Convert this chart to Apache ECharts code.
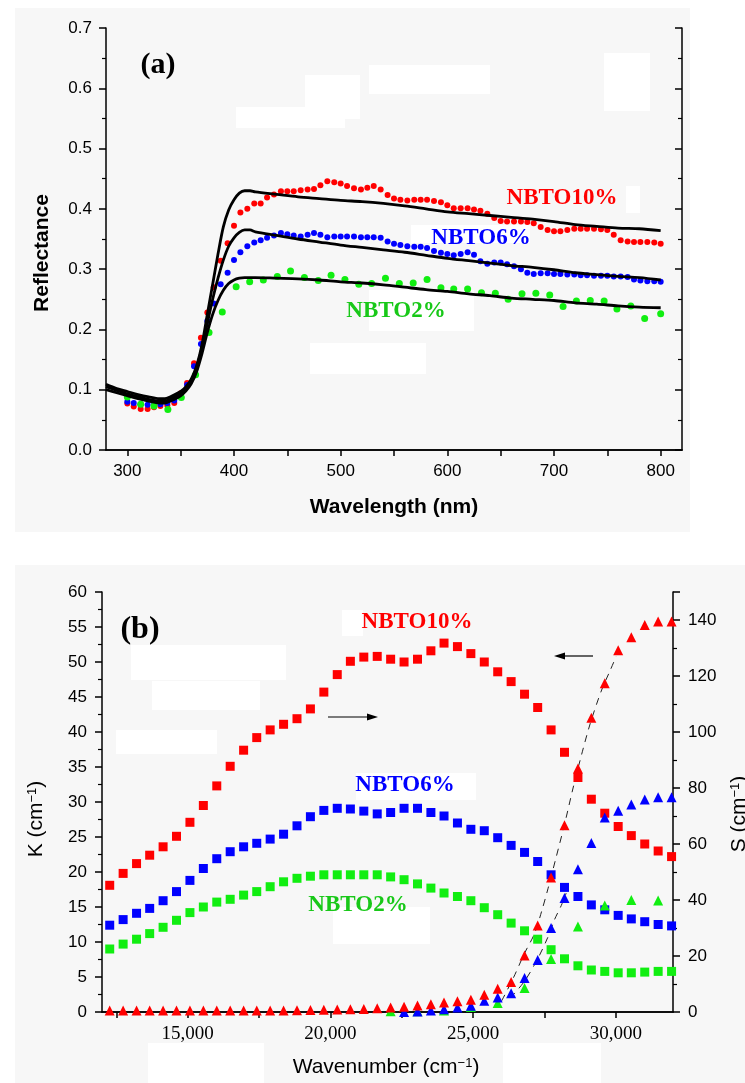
<!DOCTYPE html>
<html><head><meta charset="utf-8">
<script src="https://cdn.jsdelivr.net/npm/echarts@6/dist/echarts.min.js"></script>
<style>html,body{margin:0;padding:0;background:#fff}#c{width:745px;height:1083px}</style>
</head><body><div id="c"></div>
<script>
// ---------- Panel (a): reflectance ----------
const dotWl = [300,306,312.5,319,325,331,337.5,344,350,356,362.5,369,375,381,387.5,394,400,406,412.5,419,425,431,437.5,444,450,456,462.5,469,475,481,487.5,494,500,506,512.5,519,525,531,537.5,544,550,556,562.5,569,575,581,587.5,594,600,606,612.5,619,625,631,637.5,644,650,656,662.5,669,675,681,687.5,694,700,706,712.5,719,725,731,737.5,744,750,756,762.5,769,775,781,787.5,794,800];
const red10R = [0.077,0.072,0.068,0.068,0.071,0.073,0.074,0.078,0.094,0.111,0.144,0.186,0.228,0.270,0.314,0.343,0.372,0.394,0.400,0.409,0.409,0.419,0.424,0.429,0.429,0.429,0.431,0.432,0.433,0.439,0.446,0.444,0.442,0.438,0.434,0.432,0.435,0.438,0.432,0.423,0.417,0.415,0.414,0.415,0.415,0.415,0.413,0.411,0.406,0.401,0.401,0.401,0.399,0.397,0.392,0.385,0.380,0.379,0.379,0.379,0.378,0.376,0.370,0.365,0.363,0.363,0.365,0.367,0.367,0.367,0.367,0.366,0.365,0.357,0.348,0.346,0.345,0.345,0.345,0.344,0.342];
const blue6R = [0.080,0.078,0.076,0.075,0.075,0.076,0.078,0.082,0.092,0.108,0.139,0.176,0.214,0.243,0.275,0.294,0.315,0.328,0.338,0.344,0.348,0.352,0.356,0.360,0.358,0.356,0.354,0.357,0.360,0.357,0.353,0.354,0.354,0.354,0.354,0.353,0.353,0.353,0.352,0.346,0.342,0.340,0.338,0.337,0.337,0.335,0.330,0.327,0.325,0.323,0.325,0.328,0.324,0.313,0.309,0.311,0.311,0.308,0.305,0.300,0.294,0.292,0.293,0.293,0.292,0.292,0.291,0.291,0.290,0.290,0.289,0.289,0.289,0.288,0.288,0.287,0.283,0.281,0.280,0.280,0.279];
const greenWl = [300,312.5,325,338,350.6,364,376.6,389,402,414.7,427.5,440.6,453,466,479,491,504,517,529,542,555,568,581,594,606,619,632,645,657,670,683,696,708.5,721,734,747,759,772,785,800];
const green2R = [0.088,0.076,0.073,0.067,0.087,0.125,0.195,0.229,0.271,0.279,0.282,0.288,0.297,0.286,0.281,0.290,0.283,0.275,0.276,0.285,0.276,0.277,0.283,0.269,0.267,0.267,0.261,0.260,0.250,0.259,0.260,0.257,0.238,0.247,0.248,0.247,0.234,0.239,0.218,0.226];
const fitWl = [280,290,300,310,320,330,335,340,350,355,360,365,370,375,380,385,390,395,400,405,410,415,420,440,460,480,500,520,540,560,580,600,620,640,660,680,700,720,740,760,780,800];
const fit10 = [0.109,0.102,0.097,0.092,0.088,0.085,0.085,0.088,0.097,0.105,0.118,0.140,0.175,0.225,0.275,0.325,0.370,0.398,0.415,0.426,0.430,0.430,0.428,0.424,0.420,0.417,0.414,0.412,0.409,0.405,0.400,0.395,0.392,0.389,0.386,0.383,0.379,0.374,0.371,0.368,0.367,0.364];
const fit6 = [0.105,0.099,0.093,0.088,0.084,0.081,0.081,0.084,0.094,0.102,0.115,0.137,0.170,0.210,0.250,0.285,0.315,0.338,0.352,0.361,0.365,0.365,0.362,0.356,0.350,0.345,0.340,0.336,0.332,0.328,0.323,0.318,0.314,0.310,0.306,0.303,0.299,0.294,0.291,0.288,0.286,0.282];
const fit2 = [0.100,0.095,0.090,0.085,0.081,0.078,0.078,0.081,0.090,0.098,0.110,0.130,0.160,0.195,0.225,0.248,0.265,0.276,0.282,0.285,0.286,0.286,0.286,0.285,0.284,0.282,0.279,0.277,0.274,0.270,0.266,0.263,0.259,0.256,0.252,0.250,0.248,0.244,0.242,0.239,0.237,0.236];
const wlTicks = [300,350,400,450,500,550,600,650,700,750,800];
const wlLabels = [300,400,500,600,700,800];

// ---------- Panel (b): K and S ----------
const wn = [12270,12740,13210,13670,14140,14610,15080,15550,16020,16490,16960,17420,17890,18360,18830,19300,19770,20240,20700,21170,21640,22110,22580,23050,23520,23980,24450,24920,25390,25860,26330,26800,27260,27730,28200,28670,29140,29610,30080,30540,31010,31480,31950];
const K10 = [18.1,19.8,21.2,22.4,23.6,25.1,27.1,29.5,32.3,35.1,37.4,39.2,40.3,41.1,41.9,43.3,45.7,48.2,50.1,50.7,50.8,50.4,50.0,50.4,51.6,52.7,52.2,51.2,50.0,48.6,47.2,45.4,43.5,40.3,37.1,33.5,30.4,28.4,26.5,25.2,24.0,23.0,22.2];
const K6 = [12.4,13.2,14.1,14.8,15.9,17.2,18.8,20.5,21.9,22.9,23.6,24.1,24.7,25.4,26.6,27.9,28.8,29.1,29.0,28.7,28.3,28.5,29.1,29.1,28.5,28.0,27.0,26.1,25.9,24.9,23.8,22.8,21.5,19.6,17.8,16.5,15.3,14.6,13.8,13.3,12.9,12.5,12.3];
const K2 = [9.0,9.7,10.4,11.2,12.1,13.1,14.2,15.0,15.7,16.1,16.7,17.2,17.9,18.6,19.1,19.4,19.6,19.6,19.6,19.6,19.6,19.3,18.9,18.3,17.7,17.0,16.5,15.9,14.9,13.9,12.7,11.6,10.4,8.9,7.6,6.6,6.0,5.8,5.6,5.6,5.7,5.8,5.8];
const S10 = [0.5,0.5,0.5,0.5,0.5,0.5,0.5,0.5,0.5,0.5,0.5,0.5,0.5,0.5,0.6,0.7,0.8,0.9,1.0,1.1,1.3,1.6,1.9,2.3,2.8,3.4,3.8,4.4,6.2,8.3,10.7,20.2,30.9,48.0,66.7,87.0,105.1,117.4,129.2,133.8,138.2,139.5,139.5];
const S6 = [null,null,null,null,null,null,null,null,null,null,null,null,null,null,null,null,null,null,null,null,null,null,0,0.2,0.5,1.0,1.6,2.2,4.0,5.2,6.7,12.1,18.6,30.0,40.7,51.0,60.4,69.5,71.9,74.1,75.9,76.7,76.7];
const S2 = [null,null,null,null,null,null,null,null,null,null,null,null,null,null,null,null,null,null,null,null,null,0.3,null,0.3,null,0.5,null,1.8,null,3.2,null,8.6,null,18.9,null,30.5,null,38.0,null,40.0,null,39.8,null];
const fitRW = [26000,26400,26800,27150,27400,27620,27900,28200,28500,28800,29100,29500,29800,30010];
const fitRS = [4,12,21,28,36,44,55,67,80,92,103,115,122,127];
const fitBW = [26300,26800,27260,27608,27850,28085,28260];
const fitBS = [5,11,19,26.5,33,38,42.5];
const wnTicks = [12500,15000,17500,20000,22500,25000,27500,30000];
const wnLabels = [15000,20000,25000,30000];

const SANS = '"Liberation Sans", Arial, sans-serif';
const SERIF = '"Liberation Serif", "Times New Roman", serif';
const RED = '#ff0000', BLUE = '#0000ff', GREEN = '#11ee11', GREENTXT = '#18c818';

const chart = echarts.init(document.getElementById('c'), null, {renderer: 'canvas'});
const pair = (xs, ys) => xs.map((x, i) => [x, ys[i]]);

const axLine = {lineStyle: {color: '#000', width: 1.5}};
function xAx(grid, pos, min, max, ticks, labels, fmt, font, size) {
  const inside = pos === 'top';
  return {
    type: 'value', gridIndex: grid, position: pos, min: min, max: max,
    axisLine: axLine,
    axisTick: {inside: inside, length: 6, lineStyle: {color: '#000', width: 1.5}, customValues: ticks},
    axisLabel: inside ? {show: false} : {customValues: labels, formatter: fmt, color: '#000', fontSize: size, fontFamily: font, margin: 13},
    splitLine: {show: false}
  };
}
function yAx(grid, pos, min, max, interval, labelOn, fmt, margin, showMax) {
  const inside = (grid === 0 && pos === 'right');
  return {
    type: 'value', gridIndex: grid, position: pos, min: min, max: max, interval: interval,
    axisLine: axLine,
    axisTick: {inside: inside, length: 7, lineStyle: {color: '#000', width: 1.5}},
    minorTick: {show: true, splitNumber: 2, length: 4, lineStyle: {color: '#000', width: 1.2}},
    axisLabel: labelOn ? {formatter: fmt, color: '#000', fontSize: 17, fontFamily: SANS, margin: margin, showMaxLabel: showMax} : {show: false},
    splitLine: {show: false}, minorSplitLine: {show: false}
  };
}
function dots(xi, yi, sym, size, color, data, z) {
  return {type: 'scatter', xAxisIndex: xi, yAxisIndex: yi, symbol: sym, symbolSize: size,
    itemStyle: {color: color, opacity: 1}, data: data, z: z};
}

const option = {
  animation: false,
  backgroundColor: '#ffffff',
  grid: [
    {left: 106, top: 28, width: 576, height: 422},
    {left: 102, top: 592, width: 571, height: 420}
  ],
  xAxis: [
    xAx(0, 'bottom', 280, 820, wlTicks, wlLabels, v => String(v), SANS, 17),
    xAx(0, 'top', 280, 820, wlTicks, wlLabels, null, SANS, 17),
    xAx(1, 'bottom', 12000, 32000, wnTicks, wnLabels, v => v.toLocaleString('en-US'), SERIF, 19),
    xAx(1, 'top', 12000, 32000, wnTicks, wnLabels, null, SERIF, 19)
  ],
  yAxis: [
    yAx(0, 'left', 0, 0.7, 0.1, true, v => v.toFixed(1), 14, true),
    yAx(0, 'right', 0, 0.7, 0.1, false),
    yAx(1, 'left', 0, 60, 5, true, v => String(v), 15, true),
    yAx(1, 'right', 0, 150, 20, true, v => String(v), 15, false)
  ],
  series: [
    dots(0, 0, 'circle', 6, RED, pair(dotWl, red10R), 2),
    dots(0, 0, 'circle', 6, BLUE, pair(dotWl, blue6R), 2),
    dots(0, 0, 'circle', 7, GREEN, pair(greenWl, green2R), 2),
    {type: 'line', xAxisIndex: 0, yAxisIndex: 0, showSymbol: false, smooth: 0.3, lineStyle: {color: '#000', width: 2.8}, data: pair(fitWl, fit10), z: 3},
    {type: 'line', xAxisIndex: 0, yAxisIndex: 0, showSymbol: false, smooth: 0.3, lineStyle: {color: '#000', width: 2.8}, data: pair(fitWl, fit6), z: 3},
    {type: 'line', xAxisIndex: 0, yAxisIndex: 0, showSymbol: false, smooth: 0.3, lineStyle: {color: '#000', width: 2.8}, data: pair(fitWl, fit2), z: 3},

    {type: 'line', xAxisIndex: 2, yAxisIndex: 3, showSymbol: false, smooth: 0.3, lineStyle: {color: '#222', width: 1, type: [7, 6]}, data: pair(fitRW, fitRS), z: 2},
    {type: 'line', xAxisIndex: 2, yAxisIndex: 3, showSymbol: false, smooth: 0.3, lineStyle: {color: '#222', width: 1, type: [7, 6]}, data: pair(fitBW, fitBS), z: 2},
    dots(2, 2, 'rect', 9, RED, pair(wn, K10), 3),
    dots(2, 2, 'rect', 9, BLUE, pair(wn, K6), 3),
    dots(2, 2, 'rect', 9, GREEN, pair(wn, K2), 3),
    dots(2, 3, 'triangle', 10, GREEN, pair(wn, S2).filter(d => d[1] != null), 4),
    dots(2, 3, 'triangle', 10, BLUE, pair(wn, S6).filter(d => d[1] != null), 4),
    dots(2, 3, 'triangle', 10, RED, pair(wn, S10), 4)
  ],
  graphic: {elements: []}
};

const G = option.graphic.elements;
const bg = '#f7f7f7';
G.push({type: 'rect', z: -100, shape: {x: 15, y: 8, width: 675, height: 524}, style: {fill: bg}, silent: true});
G.push({type: 'rect', z: -100, shape: {x: 15, y: 565, width: 730, height: 518}, style: {fill: bg}, silent: true});
const patches = [[305,75,55,44],[236,107,109,21],[369,65,121,29],[604,53,46,58],[310,343,116,31],[369,290,105,41],[411,225,119,18],[626,186,14,27],
  [131,645,155,35],[152,681,108,29],[116,730,101,24],[342,610,21,26],[333,907,97,37],[356,773,120,27],[148,1043,116,40],[503,1043,98,40]];
patches.forEach(p => G.push({type: 'rect', z: -90, shape: {x: p[0], y: p[1], width: p[2], height: p[3]}, style: {fill: '#ffffff'}, silent: true}));

function txt(x, y, text, font, color, rot, rich) {
  const el = {type: 'text', z: 50, x: x, y: y, rotation: rot || 0,
    style: {text: text, font: font, fill: color, align: 'center', verticalAlign: 'middle'}};
  if (rich) { el.style.rich = rich; }
  return el;
}
G.push(txt(158, 65, '(a)', 'bold 30px ' + SERIF, '#000'));
G.push(txt(562, 198, 'NBTO10%', 'bold 23px ' + SERIF, RED));
G.push(txt(481, 238, 'NBTO6%', 'bold 23px ' + SERIF, BLUE));
G.push(txt(396, 311, 'NBTO2%', 'bold 23px ' + SERIF, GREENTXT));
G.push(txt(42, 253, 'Reflectance', 'bold 21px ' + SANS, '#000', Math.PI / 2));
G.push(txt(394, 507, 'Wavelength (nm)', 'bold 21px ' + SANS, '#000'));

G.push(txt(140, 630, '(b)', 'bold 32px ' + SERIF, '#000'));
G.push(txt(417, 622, 'NBTO10%', 'bold 23px ' + SERIF, RED));
G.push(txt(405, 785, 'NBTO6%', 'bold 23px ' + SERIF, BLUE));
G.push(txt(358, 905, 'NBTO2%', 'bold 23px ' + SERIF, GREENTXT));

const richSup = {
  a: {fontSize: 21, fontFamily: SANS, fill: '#000', color: '#000'},
  s: {fontSize: 13, fontFamily: SANS, fill: '#000', color: '#000', verticalAlign: 'top', padding: [0, 0, 8, 0]}
};
G.push(txt(36, 819, '{a|K (cm}{s|−1}{a|)}', '21px ' + SANS, '#000', Math.PI / 2, richSup));
G.push(txt(739, 814, '{a|S (cm}{s|−1}{a|)}', '21px ' + SANS, '#000', Math.PI / 2, richSup));
G.push(txt(386, 1067, '{a|Wavenumber (cm}{s|−1}{a|)}', '21px ' + SANS, '#000', 0, richSup));

// arrows
G.push({type: 'line', z: 50, shape: {x1: 328, y1: 717, x2: 370, y2: 717}, style: {stroke: '#000', lineWidth: 1.2}});
G.push({type: 'polygon', z: 50, shape: {points: [[378, 717], [367, 713.5], [367, 720.5]]}, style: {fill: '#000'}});
G.push({type: 'line', z: 50, shape: {x1: 593, y1: 656, x2: 562, y2: 656}, style: {stroke: '#000', lineWidth: 1.2}});
G.push({type: 'polygon', z: 50, shape: {points: [[554, 656], [565, 652.5], [565, 659.5]]}, style: {fill: '#000'}});

chart.setOption(option);
</script></body></html>
